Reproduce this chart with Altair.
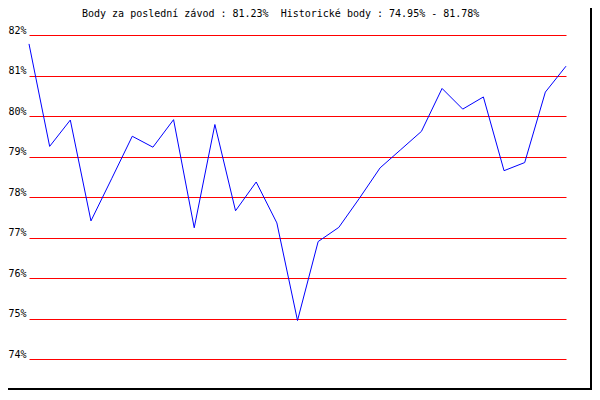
import altair as alt
import pandas as pd

# Data
race_index = list(range(27))
points_pct = [81.78, 79.25, 79.90, 77.41, 78.45, 79.50, 79.23, 79.91, 77.24,
              79.79, 77.66, 78.37, 77.36, 74.95, 76.90, 77.25, 77.97, 78.72,
              79.17, 79.62, 80.68, 80.17, 80.47, 78.65, 78.85, 80.59, 81.23]
y_ticks = [74, 75, 76, 77, 78, 79, 80, 81, 82]
title_text = "Body za poslední závod : 81.23%\u00a0\u00a0Historické body : 74.95% - 81.78%"

df = pd.DataFrame({"i": race_index, "v": points_pct})
one = pd.DataFrame({"k": [0]})

W, H = 537, 324
MONO = "DejaVu Sans Mono"

yscale = alt.Scale(domain=[74, 82], nice=False, zero=False)
xscale = alt.Scale(domain=[0, 26], nice=False, zero=False)

line = alt.Chart(df).mark_line(color="#0000ff", strokeWidth=1).encode(
    x=alt.X("i:Q", scale=xscale, axis=None),
    y=alt.Y("v:Q", scale=yscale, axis=alt.Axis(
        values=y_ticks, labelExpr="datum.value + '%'", grid=True,
        gridColor="#ff0000", gridWidth=1, gridOpacity=1, domain=False, ticks=False,
        labelFont=MONO, labelFontSize=10, labelColor="black", labelPadding=3,
        labelBaseline="alphabetic", labelOffset=-2, title=None)),
)

title = alt.Chart(one).mark_text(
    text=title_text, font=MONO, fontSize=10, color="black",
    align="left", baseline="alphabetic"
).encode(x=alt.value(53), y=alt.value(-18))

def box(x1, x2, y1, y2, color):
    return alt.Chart(one).mark_rect(color=color, opacity=1).encode(
        x=alt.value(x1), x2=alt.value(x2), y=alt.value(y1), y2=alt.value(y2))

frame = [
    box(561, 563, -27, 355, "black"),     # right border
    box(-21, 563, 353, 355, "black"),     # bottom border
]

chart = alt.layer(line, title, *frame).properties(
    width=W, height=H,
    autosize=alt.AutoSizeParams(type="none"),
    padding={"left": 21, "top": 27, "right": 26, "bottom": 31},
    background="white",
).configure_view(stroke=None)

chart.save("out.html", embed_options={"renderer": "svg", "actions": False})
